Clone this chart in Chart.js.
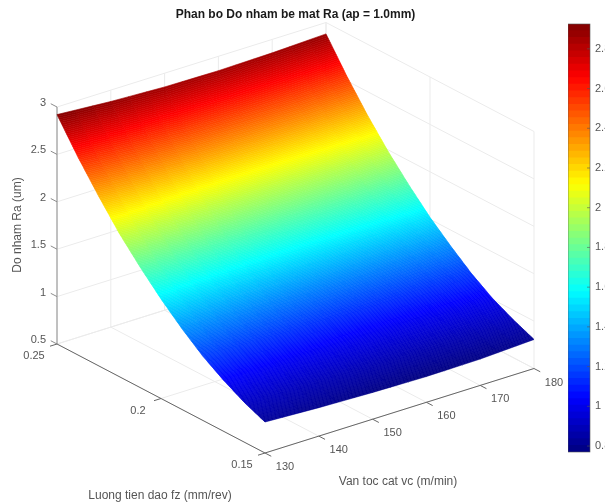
<!DOCTYPE html>
<html>
<head>
<meta charset="utf-8">
<title>Phan bo Do nham be mat Ra</title>
<script src="https://cdn.jsdelivr.net/npm/chart.js@4/dist/chart.umd.min.js"></script>
<style>
  html, body { margin: 0; padding: 0; background: #fff; overflow: hidden; width: 605px; height: 502px; }
  canvas { filter: blur(0.4px); }
  #surface { position: absolute; left: 0; top: 0; }
  #colorbar { position: absolute; left: 568px; top: 0; }
</style>
</head>
<body>
<canvas id="surface" width="605" height="502"></canvas>
<canvas id="colorbar" width="60" height="502"></canvas>
<script>
const vcValues = [130, 140, 150, 160, 170, 180];
const fzValues = [0.15, 0.16, 0.17, 0.18, 0.19, 0.20, 0.21, 0.22, 0.23, 0.24, 0.25];
// one row per fz, one column per vc
const raGrid = [
  [0.827, 0.800, 0.782, 0.772, 0.778, 0.806],
  [0.920, 0.895, 0.880, 0.870, 0.875, 0.900],
  [1.040, 1.015, 1.000, 0.990, 0.995, 1.010],
  [1.180, 1.155, 1.140, 1.130, 1.140, 1.155],
  [1.354, 1.330, 1.310, 1.305, 1.310, 1.330],
  [1.550, 1.525, 1.505, 1.500, 1.505, 1.520],
  [1.770, 1.740, 1.720, 1.715, 1.720, 1.740],
  [2.010, 1.980, 1.960, 1.955, 1.960, 1.980],
  [2.290, 2.260, 2.235, 2.230, 2.235, 2.250],
  [2.590, 2.555, 2.530, 2.525, 2.530, 2.550],
  [2.920, 2.880, 2.855, 2.848, 2.858, 2.880]
];
const vcTicks = [130, 140, 150, 160, 170, 180];
const fzTicks = [0.15, 0.2, 0.25];
const raTicks = [0.5, 1, 1.5, 2, 2.5, 3];
const colorbarTicks = [0.8, 1, 1.2, 1.4, 1.6, 1.8, 2, 2.2, 2.4, 2.6, 2.8];
const colorMin = 0.77;
const colorMax = 2.925;

const titleText = 'Phan bo Do nham be mat Ra (ap = 1.0mm)';
const vcLabel = 'Van toc cat vc (m/min)';
const fzLabel = 'Luong tien dao fz (mm/rev)';
const raLabel = 'Do nham Ra (um)';

const gridColor = '#ebebeb';
const textColor = '#555555';

// fixed 3D view, same idea as view(az, el) in MATLAB
function project(vc, fz, ra) {
  const a = (vc - 130) / 50, b = (fz - 0.15) / 0.1, c = (ra - 0.5) / 2.5;
  return { x: 265 + 269 * a - 208 * b, y: 453 - 84.5 * a - 109 * b - 237 * c };
}

function jet(ra) {
  const t = Math.min(1, Math.max(0, (ra - colorMin) / (colorMax - colorMin)));
  const ch = v => Math.round(255 * Math.min(1, Math.max(0, 1.5 - Math.abs(4 * t - v))));
  return 'rgb(' + ch(3) + ',' + ch(2) + ',' + ch(1) + ')';
}

function lineSet(segments, color, width) {
  const data = [];
  segments.forEach(s => { data.push(s[0], s[1], { x: null, y: null }); });
  return { data: data, showLine: true, borderColor: color, borderWidth: width, pointRadius: 0, spanGaps: false };
}

const gridSegs = [];
raTicks.forEach(r => {
  gridSegs.push([project(130, 0.25, r), project(180, 0.25, r)]);
  gridSegs.push([project(180, 0.25, r), project(180, 0.15, r)]);
});
vcTicks.forEach(v => {
  gridSegs.push([project(v, 0.25, 0.5), project(v, 0.25, 3)]);
  gridSegs.push([project(v, 0.25, 0.5), project(v, 0.15, 0.5)]);
});
fzTicks.forEach(f => {
  gridSegs.push([project(180, f, 0.5), project(180, f, 3)]);
  gridSegs.push([project(130, f, 0.5), project(180, f, 0.5)]);
});

const zAxisSegs = [[project(130, 0.25, 0.5), project(130, 0.25, 3)]];
raTicks.forEach(r => zAxisSegs.push([project(130, 0.25, r), project(130, 0.253, r)]));
const floorAxisSegs = [
  [project(130, 0.25, 0.5), project(130, 0.15, 0.5)],
  [project(130, 0.15, 0.5), project(180, 0.15, 0.5)]
];
fzTicks.forEach(f => floorAxisSegs.push([project(130, f, 0.5), project(128.7, f, 0.5)]));
vcTicks.forEach(v => floorAxisSegs.push([project(v, 0.15, 0.5), project(v, 0.147, 0.5)]));

// grid nodes of the surface go in as a dataset, the plugin below fills between them
const surfaceNodes = [];
fzValues.forEach((f, i) => vcValues.forEach((v, j) => surfaceNodes.push(project(v, f, raGrid[i][j]))));

const surfacePlugin = {
  id: 'surfacePlugin',
  afterDatasetsDraw(chart) {
    const ctx = chart.ctx;
    const nodes = chart.getDatasetMeta(0).data;
    const nv = vcValues.length;
    const subV = 3, subF = 24;
    const mix = (a, b, c, d, u, w) => (a * (1 - u) + b * u) * (1 - w) + (c * (1 - u) + d * u) * w;
    ctx.save();
    ctx.lineWidth = 0.6;
    for (let i = fzValues.length - 2; i >= 0; i--) {
      for (let j = 0; j < nv - 1; j++) {
        const p00 = nodes[i * nv + j], p01 = nodes[i * nv + j + 1];
        const p10 = nodes[(i + 1) * nv + j], p11 = nodes[(i + 1) * nv + j + 1];
        const r00 = raGrid[i][j], r01 = raGrid[i][j + 1], r10 = raGrid[i + 1][j], r11 = raGrid[i + 1][j + 1];
        const at = (u, w) => ({
          x: mix(p00.x, p01.x, p10.x, p11.x, u, w),
          y: mix(p00.y, p01.y, p10.y, p11.y, u, w)
        });
        for (let m = subF - 1; m >= 0; m--) {
          for (let n = 0; n < subV; n++) {
            const u0 = n / subV, u1 = (n + 1) / subV, w0 = m / subF, w1 = (m + 1) / subF;
            const col = jet(mix(r00, r01, r10, r11, (u0 + u1) / 2, (w0 + w1) / 2));
            const a = at(u0, w0), b = at(u1, w0), c = at(u1, w1), d = at(u0, w1);
            ctx.beginPath();
            ctx.moveTo(a.x, a.y);
            ctx.lineTo(b.x, b.y);
            ctx.lineTo(c.x, c.y);
            ctx.lineTo(d.x, d.y);
            ctx.closePath();
            ctx.fillStyle = col;
            ctx.strokeStyle = col;
            ctx.fill();
            ctx.stroke();
          }
        }
      }
    }
    ctx.restore();
  }
};

const textPlugin = {
  id: 'textPlugin',
  afterDraw(chart) {
    const ctx = chart.ctx;
    const sx = chart.scales.x, sy = chart.scales.y;
    const put = (text, p, dx, dy, align) => {
      ctx.textAlign = align;
      ctx.fillText(text, sx.getPixelForValue(p.x) + dx, sy.getPixelForValue(p.y) + dy);
    };
    ctx.save();
    ctx.textBaseline = 'middle';
    ctx.fillStyle = textColor;
    ctx.font = '11px "Liberation Sans"';
    raTicks.forEach(r => put(String(r), project(130, 0.25, r), -11, -4, 'right'));
    fzTicks.forEach(f => put(String(f), project(130, f, 0.5), -23, 12, 'center'));
    vcTicks.forEach(v => put(String(v), project(v, 0.15, 0.5), 20, 14, 'center'));
    ctx.font = '12px "Liberation Sans"';
    ctx.textAlign = 'center';
    ctx.fillText(vcLabel, 398, 482);
    ctx.fillText(fzLabel, 160, 496);
    ctx.save();
    ctx.translate(18, 225);
    ctx.rotate(-Math.PI / 2);
    ctx.fillText(raLabel, 0, 0);
    ctx.restore();
    ctx.font = 'bold 12px "Liberation Sans"';
    ctx.fillStyle = '#1a1a1a';
    ctx.fillText(titleText, 295.5, 15);
    ctx.restore();
  }
};

new Chart(document.getElementById('surface'), {
  type: 'scatter',
  data: {
    datasets: [
      { data: surfaceNodes, pointRadius: 0, showLine: false },
      lineSet(floorAxisSegs, '#666666', 1),
      lineSet(zAxisSegs, '#8c8c8c', 1),
      lineSet(gridSegs, gridColor, 1)
    ]
  },
  options: {
    responsive: false,
    animation: false,
    layout: { padding: 0 },
    plugins: { legend: { display: false }, tooltip: { enabled: false } },
    scales: {
      x: { type: 'linear', display: false, min: 0, max: 605 },
      y: { type: 'linear', display: false, min: 0, max: 502, reverse: true }
    }
  },
  plugins: [surfacePlugin, textPlugin]
});

// colorbar: 64 levels of the same colormap, shortest bar drawn last so no seams show
const levels = 64;
const barSets = [];
for (let i = 0; i < levels; i++) {
  const lo = colorMin + (colorMax - colorMin) * i / levels;
  const hi = colorMin + (colorMax - colorMin) * (i + 1) / levels;
  barSets.push({ data: [[colorMin, hi]], backgroundColor: jet((lo + hi) / 2), borderWidth: 0 });
}

const colorbarFrame = {
  id: 'colorbarFrame',
  afterDraw(chart) {
    const ctx = chart.ctx, a = chart.chartArea, y = chart.scales.y;
    ctx.save();
    ctx.strokeStyle = '#555555';
    ctx.lineWidth = 0.6;
    ctx.strokeRect(a.left, a.top, a.right - a.left, a.bottom - a.top);
    colorbarTicks.forEach(v => {
      const p = y.getPixelForValue(v);
      ctx.beginPath();
      ctx.moveTo(a.right - 3, p);
      ctx.lineTo(a.right, p);
      ctx.stroke();
    });
    ctx.restore();
  }
};

new Chart(document.getElementById('colorbar'), {
  type: 'bar',
  data: { labels: ['Ra'], datasets: barSets },
  options: {
    responsive: false,
    animation: false,
    layout: { padding: { top: 24, bottom: 50, left: 0, right: 0 } },
    datasets: { bar: { grouped: false, barPercentage: 1, categoryPercentage: 1 } },
    plugins: { legend: { display: false }, tooltip: { enabled: false } },
    scales: {
      x: { display: false },
      y: {
        position: 'right',
        min: colorMin,
        max: colorMax,
        grid: { drawOnChartArea: false, drawTicks: false },
        border: { display: false },
        ticks: {
          padding: 5,
          autoSkip: false,
          color: textColor,
          font: { family: '"Liberation Sans"', size: 11 },
          callback: v => String(v)
        },
        afterBuildTicks(scale) { scale.ticks = colorbarTicks.map(v => ({ value: v })); },
        afterFit(scale) { scale.width = 38; }
      }
    }
  },
  plugins: [colorbarFrame]
});
</script>
</body>
</html>
